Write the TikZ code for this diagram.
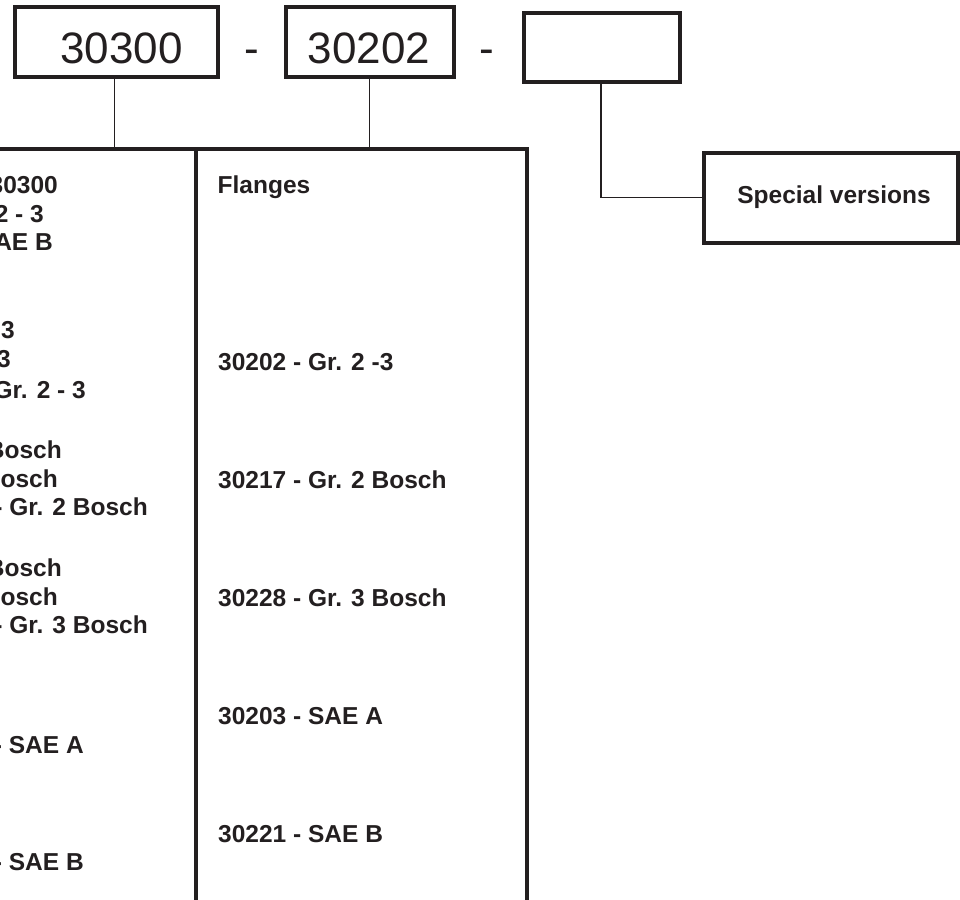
\documentclass[tikz,border=0pt]{standalone}
\usepackage{fontspec}
\setmainfont{Liberation Sans}
\definecolor{ink}{HTML}{231F20}
\begin{document}
\begin{tikzpicture}[x=1pt,y=-1pt, line join=miter,
  frame/.style={draw=ink, line width=4pt},
  thinline/.style={draw=ink, line width=1.3pt},
  codebox/.style={draw=ink, line width=4pt, rectangle, inner sep=0pt, outer sep=0pt},
  big/.style={font=\fontsize{44}{50}\selectfont, text=ink, inner sep=0pt, anchor=base},
  lab/.style={font=\fontsize{24.5}{28}\selectfont\bfseries, text=ink, inner sep=0pt},
  lleft/.style={lab, anchor=base east},
  lmid/.style={lab, anchor=base west},
]
\useasboundingbox (0,0) rectangle (960,899);
% code boxes
\node[codebox, minimum width=203pt, minimum height=70pt] (b1) at (116.3,42) {};
\node[big] (t1) at (121.7,63.3) {30300};
\node[big] (d1) at (251.5,63.3) {-};
\node[codebox, minimum width=168pt, minimum height=70pt] (b2) at (370,42) {};
\node[big] (t2) at (368.8,63.3) {30202};
\node[big] (d2) at (486.5,63.3) {-};
\node[codebox, minimum width=156pt, minimum height=68.5pt] (b3) at (602,47.25) {};
\node[codebox, minimum width=253.5pt, minimum height=89.5pt] (sv) at (830.75,197.75) {};
\node[lab, anchor=base] (svt) at (834,203) {Special versions};
% frame
\coordinate (tl) at (-5,148.5);
\coordinate (tr) at (527,148.5);
\coordinate (br) at (527,905);
\coordinate (mt) at (195.5,148.5);
\coordinate (mb) at (195.5,905);
\coordinate (c1) at (114.3,148.5);
\coordinate (c2) at (369.3,148.5);
\coordinate (c3) at (601,197.75);
\draw[frame] (tl) -- (tr) -- (br);
\draw[frame] (mt) -- (mb);
% connectors
\draw[thinline] (b1.south -| c1) -- (c1);
\draw[thinline] (b2.south -| c2) -- (c2);
\draw[thinline] (b3.south -| c3) |- (sv.west);
% left column (cut off at the page edge, as in the reference)
\node[lleft] (l1) at (58,193) {30300};
\node[lleft] (l2) at (44,222) {2 - 3};
\node[lleft] (l3) at (53,250) {SAE B};
\node[lleft] (l4) at (15,338) {3};
\node[lleft] (l5) at (11,367) {3};
\node[lleft] (l6) at (86,398) {Gr. 2 - 3};
\node[lleft] (l7) at (62,458) {Bosch};
\node[lleft] (l8) at (58,487) {Bosch};
\node[lleft] (l9) at (148,515) {- Gr. 2 Bosch};
\node[lleft] (l10) at (62,576) {Bosch};
\node[lleft] (l11) at (58,605) {Bosch};
\node[lleft] (l12) at (148,633) {- Gr. 3 Bosch};
\node[lleft] (l13) at (84,753) {- SAE A};
\node[lleft] (l14) at (84,870) {- SAE B};
% middle column
\node[lmid] (m0) at (217.5,193) {Flanges};
\node[lmid] (m1) at (218,370) {30202 - Gr. 2 -3};
\node[lmid] (m2) at (218,488) {30217 - Gr. 2 Bosch};
\node[lmid] (m3) at (218,606) {30228 - Gr. 3 Bosch};
\node[lmid] (m4) at (218,724) {30203 - SAE A};
\node[lmid] (m5) at (218,842) {30221 - SAE B};
\end{tikzpicture}
\end{document}
